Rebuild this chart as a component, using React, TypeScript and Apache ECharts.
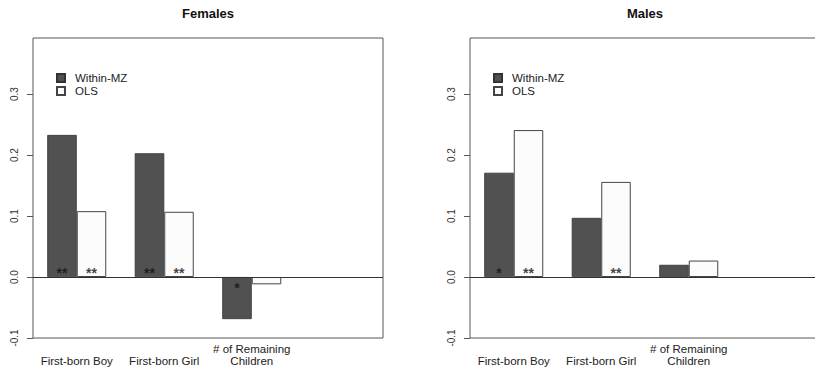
import React, { useEffect, useRef } from 'react';
import * as echarts from 'echarts';

const categories = ['First-born Boy', 'First-born Girl', '# of Remaining\nChildren', ''];
const seriesNames = ['Within-MZ', 'OLS'];
const panelTitles = ['Females', 'Males'];
const femalesWithinMZ = [0.233, 0.203, -0.069];
const femalesOLS = [0.108, 0.107, -0.012];
const malesWithinMZ = [0.171, 0.097, 0.02];
const malesOLS = [0.241, 0.156, 0.027];
const femalesWithinMZStars = ['**', '**', '*'];
const femalesOLSStars = ['**', '**', ''];
const malesWithinMZStars = ['*', '', ''];
const malesOLSStars = ['**', '**', ''];
const yTicks = [-0.1, 0, 0.1, 0.2, 0.3];

const FONT = '"Liberation Sans", Arial, Helvetica, sans-serif';

export default function App() {
  const ref = useRef<HTMLDivElement>(null);
  useEffect(() => {
    if (!ref.current) return;
    const chart = echarts.init(ref.current, undefined, { renderer: 'svg' });
    const panels = [
      { title: panelTitles[0], mz: femalesWithinMZ, ols: femalesOLS, mzStars: femalesWithinMZStars, olsStars: femalesOLSStars, left: 33, legendLeft: 56 },
      { title: panelTitles[1], mz: malesWithinMZ, ols: malesOLS, mzStars: malesWithinMZStars, olsStars: malesOLSStars, left: 470, legendLeft: 493 },
    ];
    const gridW = 350;
    const barW = 29.5;
    const series: any[] = [];
    panels.forEach((p, i) => {
      series.push({
        name: seriesNames[0], type: 'bar', xAxisIndex: i, yAxisIndex: i, data: p.mz,
        barWidth: barW, barGap: '0%',
        itemStyle: { color: '#515151', borderColor: '#333', borderWidth: 0.8 },
        markLine: {
          silent: true, symbol: ['none', 'none'], label: { show: false },
          lineStyle: { color: '#333', type: 'solid', width: 1 },
          data: [{ yAxis: 0 }],
        },
        z: 2,
      });
      series.push({
        name: seriesNames[1], type: 'bar', xAxisIndex: i, yAxisIndex: i, data: p.ols,
        barWidth: barW, barGap: '0%',
        itemStyle: { color: '#fcfcfc', borderColor: '#444', borderWidth: 1 },
        z: 2,
      });
      const mk = (vals: number[], stars: string[], off: number) => ({
        name: 'stars', type: 'scatter', xAxisIndex: i, yAxisIndex: i, symbolSize: 0, silent: true, z: 5,
        data: vals.map((v, k) => ({ value: [k, v >= 0 ? 0.007 : -0.018], label: { formatter: stars[k] } })),
        label: { show: true, position: 'inside', offset: [off, 0], fontSize: 14, fontWeight: 'bold', color: '#111', fontFamily: FONT },
      });
      series.push(mk(p.mz, p.mzStars, -barW / 2));
      series.push(mk(p.ols, p.olsStars, barW / 2));
    });

    chart.setOption({
      animation: false,
      backgroundColor: '#ffffff',
      textStyle: { fontFamily: FONT },
      graphic: panels.map((p) => ({
        type: 'text', x: p.left + gridW / 2, y: 13,
        style: { text: p.title, fontSize: 13, fontWeight: 'bold', fontFamily: FONT, fill: '#111', align: 'center', verticalAlign: 'middle' },
      })),
      legend: panels.map((p) => ({
        data: seriesNames, orient: 'vertical', left: p.legendLeft, top: 72, padding: 0,
        itemWidth: 8, itemHeight: 8, itemGap: 1, icon: 'rect', selectedMode: false,
        textStyle: { fontSize: 11.5, color: '#222', fontFamily: FONT, padding: [0, 0, 0, 5] },
      })),
      grid: panels.map((p) => ({
        left: p.left, top: 38, width: gridW, height: 300, show: true,
        borderColor: '#555', borderWidth: 1, backgroundColor: 'transparent',
        containLabel: false, outerBoundsMode: 'none',
      })),
      xAxis: panels.map((p, i) => ({
        type: 'category', gridIndex: i, data: categories,
        axisLine: { show: false }, axisTick: { show: false }, splitLine: { show: false },
        axisLabel: { interval: 0, fontSize: 11.5, color: '#222', fontFamily: FONT, verticalAlign: 'bottom', margin: 29, lineHeight: 12 },
      })),
      yAxis: panels.map((p, i) => ({
        type: 'value', gridIndex: i, min: -0.1, max: 0.392,
        axisLine: { show: false }, splitLine: { show: false },
        axisTick: { show: true, length: 6, lineStyle: { color: '#555' }, customValues: yTicks },
        axisLabel: { rotate: 90, customValues: yTicks, formatter: (v: number) => v.toFixed(1), fontSize: 10, color: '#333', margin: 14, fontFamily: FONT },
      })),
      series,
    });
    return () => chart.dispose();
  }, []);
  return <div ref={ref} style={{ position: 'absolute', left: 0, top: 0, width: 815, height: 369 }} />;
}
